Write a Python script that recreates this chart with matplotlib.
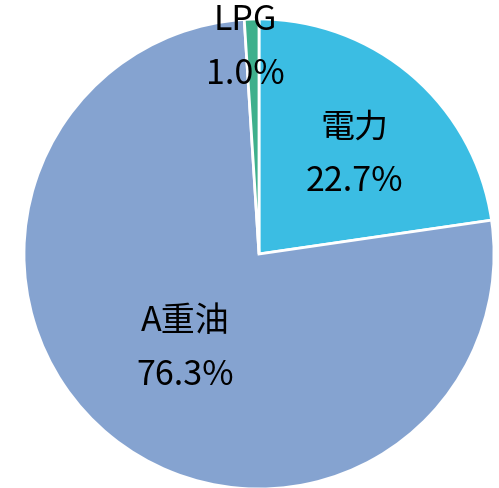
import numpy as np
import matplotlib; matplotlib.use('Agg'); import matplotlib.pyplot as plt

plt.rcParams['font.family'] = ['Noto Sans CJK JP', 'DejaVu Sans']

labels = ['電力', 'A重油', 'LPG']
shares = [22.7, 76.3, 1.0]
colors = ['#3bbde3', '#85a3d0', '#3fb08c']
label_r = [0.587, 0.511, 0.881]   # radial position of each label, fraction of radius
label_da = [-3.2, 1.0, 2.1]       # small angular nudge of each label, degrees

W, H, R = 499, 488, 235
cx, cy = 259, 254

fig = plt.figure(figsize=(W / 100, H / 100), dpi=100)
ax = fig.add_axes([0, 0, 1, 1])
wedges, _ = ax.pie(shares, colors=colors, startangle=90, counterclock=False, radius=1,
                   wedgeprops=dict(edgecolor='white', linewidth=2))
ax.set_xlim(-cx / R, (W - cx) / R)
ax.set_ylim(-(H - cy) / R, cy / R)
ax.set_aspect('auto')
ax.axis('off')

for w, lab, v, d, da in zip(wedges, labels, shares, label_r, label_da):
    a = np.deg2rad((w.theta1 + w.theta2) / 2 + da)
    ax.text(d * np.cos(a), d * np.sin(a), f"{lab}\n{v:.1f}%", ha='center', va='center',
            fontsize=24.5, linespacing=1.7, color='black')

fig.savefig('out.png', dpi=100)
